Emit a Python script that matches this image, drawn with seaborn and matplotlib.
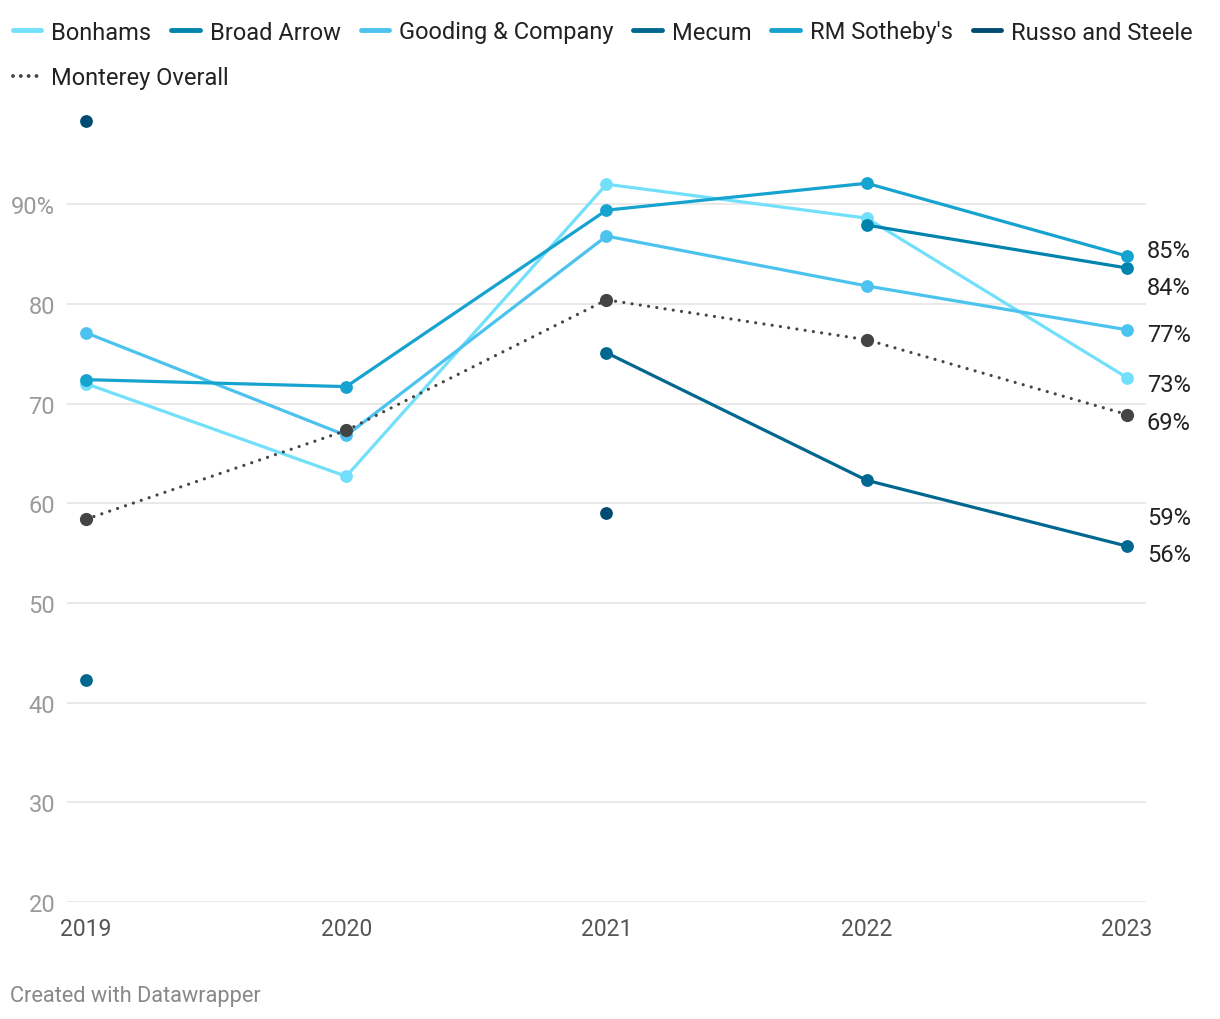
import numpy as np
import pandas as pd
import matplotlib
matplotlib.use('Agg')
import matplotlib.pyplot as plt
import matplotlib.transforms as mtransforms
from matplotlib.lines import Line2D
import seaborn as sns

# data (sell-through %)
years = [2019, 2020, 2021, 2022, 2023]
houses = ["Bonhams", "Broad Arrow", "Gooding & Company", "Mecum", "RM Sotheby's", "Russo and Steele"]
bonhams = [72.0, 62.7, 92.0, 88.6, 72.6]
broad_arrow = [np.nan, np.nan, np.nan, 87.9, 83.6]
gooding = [77.1, 66.8, 86.8, 81.8, 77.4]
mecum = [42.3, np.nan, 75.1, 62.3, 55.7]
rm_sothebys = [72.4, 71.7, 89.4, 92.1, 84.8]
russo = [98.3, np.nan, 59.0, np.nan, np.nan]
overall = [58.4, 67.3, 80.4, 76.4, 68.9]
y_ticks = [20, 30, 40, 50, 60, 70, 80, 90]
y_ticklabels = ["20", "30", "40", "50", "60", "70", "80", "90%"]

colors = ["#72e0fb", "#0083ad", "#4cc3ee", "#006790", "#16a3cf", "#004b73"]
overall_color = "#444444"

series = [bonhams, broad_arrow, gooding, mecum, rm_sothebys, russo]

# long table, with a segment id so gaps are not bridged
rows = []
for name, vals in zip(houses, series):
    seg = 0
    for yr, v in zip(years, vals):
        if np.isnan(v):
            seg += 1
            continue
        rows.append({"year": yr, "value": v, "house": name, "seg": seg})
df = pd.DataFrame(rows)
df_overall = pd.DataFrame({"year": years, "value": overall})

sns.set_theme(style="white")
plt.rcParams['font.family'] = ['Roboto', 'DejaVu Sans']

fig = plt.figure(figsize=(12.2, 10.2), dpi=100)
ax = fig.add_axes([67 / 1220, (1020 - 903) / 1020, (1146 - 67) / 1220, (903 - 105.5) / 1020])

sns.lineplot(data=df, x="year", y="value", hue="house", units="seg", estimator=None,
             palette=dict(zip(houses, colors)), hue_order=houses, marker="o",
             markersize=9.2, markeredgewidth=0, linewidth=2.3, legend=False, ax=ax)
sns.lineplot(data=df_overall, x="year", y="value", color=overall_color, marker="o",
             markersize=9.5, markeredgewidth=0, linewidth=2.3,
             linestyle=(0, (0.01, 2.6)), dash_capstyle="round", legend=False, ax=ax)

ax.set_xlim(2019 - 19 / 260.25, 2023 + 19 / 260.25)
ax.set_ylim(20, 100)
ax.set_yticks(y_ticks)
ax.set_yticklabels(y_ticklabels)
ax.set_xticks(years)
ax.set_xticklabels([str(y) for y in years])
ax.tick_params(axis="y", length=0, pad=8.5, labelsize=17, labelcolor="#9a9a9a")
ax.tick_params(axis="x", length=0, pad=11, labelsize=16.5, labelcolor="#555555")
ax.grid(axis="y", color="#e3e3e3", linewidth=1.1)
ax.grid(axis="x", visible=False)
ax.set_axisbelow(True)
for s in ax.spines.values():
    s.set_visible(False)
ax.set_xlabel("")
ax.set_ylabel("")

# end labels on the right
end_vals = [(v, [x for x in vals if not np.isnan(x)][-1]) for v, vals in
            zip(houses + ["Monterey Overall"], series + [overall])]
nudges = {"Bonhams": 7, "Broad Arrow": 20, "Gooding & Company": 5, "Mecum": 8,
          "RM Sotheby's": -6, "Russo and Steele": 4, "Monterey Overall": 8}
trans = mtransforms.blended_transform_factory(ax.transAxes, ax.transData)
for name, v in end_vals:
    t = mtransforms.offset_copy(trans, fig=fig, x=1, y=-nudges[name], units="dots")
    ax.text(1.0, v, f"{v:.0f}%", transform=t, ha="left", va="center",
            fontsize=17, color="#222222")

# legend
handles = [Line2D([0], [0], color=c, linewidth=3.5, solid_capstyle="round") for c in colors]
fig.legend(handles, houses, loc="center left", bbox_to_anchor=(6 / 1220, 1 - 33 / 1020),
           ncol=6, frameon=False, fontsize=17, handlelength=1.2, handletextpad=0.42,
           columnspacing=0.85, borderaxespad=0, borderpad=0.3, labelcolor="#222222")
h2 = [Line2D([0], [0], color=overall_color, linewidth=2.8, linestyle=(0, (0.01, 2.0)),
             dash_capstyle="round")]
fig.legend(h2, ["Monterey Overall"], loc="center left", bbox_to_anchor=(6 / 1220, 1 - 79 / 1020),
           frameon=False, fontsize=17, handlelength=1.2, handletextpad=0.42,
           borderaxespad=0, borderpad=0.3, labelcolor="#222222")

fig.text(10 / 1220, 1 - 997 / 1020, "Created with Datawrapper", ha="left", va="center",
         fontsize=15.7, color="#888888")

fig.savefig("out.png", dpi=100)
